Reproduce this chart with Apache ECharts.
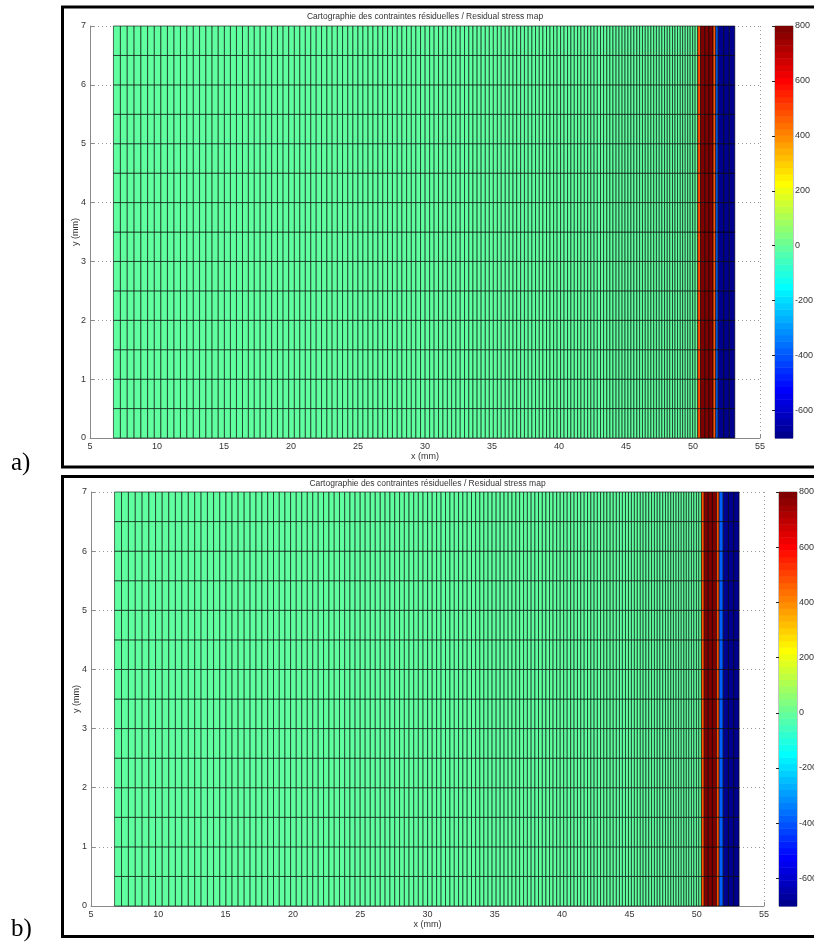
<!DOCTYPE html>
<html><head><meta charset="utf-8">
<script src="https://cdn.jsdelivr.net/npm/echarts@6/dist/echarts.min.js"></script>
<style>html,body{margin:0;padding:0;background:#fff}#c{width:814px;height:943px}</style>
</head><body><div id="c"></div>
<script>
// ---------------- data ----------------
const chartTitle = 'Cartographie des contraintes résiduelles / Residual stress map';
const xAxisName = 'x (mm)';
const yAxisName = 'y (mm)';
const panelLabels = ['a)', 'b)'];
const xTicks = [5, 10, 15, 20, 25, 30, 35, 40, 45, 50, 55];
const yTicks = [0, 1, 2, 3, 4, 5, 6, 7];
const colorbarTicks = [-600, -400, -200, 0, 200, 400, 600, 800];
const stressLimits = [-700, 800];
// row boundaries (mm)
const yEdges = [0, 0.5, 1, 1.5, 2, 2.5, 3, 3.5, 4, 4.5, 5, 5.5, 6, 6.5, 7];
// column boundaries of the refined mesh (mm)
const meshEdges = [6.75, 7.27, 7.78, 8.29, 8.80, 9.30, 9.80, 10.29, 10.78, 11.27, 11.75,
  12.23, 12.71, 13.18, 13.65, 14.11, 14.57, 15.03, 15.48, 15.93, 16.38,
  16.82, 17.26, 17.70, 18.13, 18.56, 18.99, 19.41, 19.83, 20.25, 20.66,
  21.07, 21.48, 21.88, 22.28, 22.68, 23.07, 23.46, 23.85, 24.24, 24.62,
  25.00, 25.37, 25.75, 26.12, 26.49, 26.85, 27.21, 27.57, 27.93, 28.28,
  28.63, 28.98, 29.32, 29.67, 30.01, 30.35, 30.68, 31.01, 31.34, 31.67,
  31.99, 32.31, 32.63, 32.95, 33.27, 33.58, 33.89, 34.19, 34.50, 34.80,
  35.10, 35.40, 35.69, 35.99, 36.28, 36.57, 36.85, 37.14, 37.42, 37.70,
  37.98, 38.25, 38.53, 38.80, 39.07, 39.33, 39.60, 39.86, 40.12, 40.38,
  40.64, 40.89, 41.14, 41.39, 41.64, 41.89, 42.14, 42.38, 42.62, 42.86,
  43.10, 43.33, 43.57, 43.80, 44.03, 44.26, 44.48, 44.71, 44.93, 45.15,
  45.37, 45.59, 45.81, 46.02, 46.23, 46.44, 46.65, 46.86, 47.07, 47.27,
  47.48, 47.68, 47.88, 48.08, 48.27, 48.47, 48.66, 48.85, 49.05, 49.23,
  49.42, 49.61, 49.79, 49.98, 50.16, 50.35];
const meshStress = -8; // stress in the bulk (MPa)
// columns of the treated surface layer
const surfaceEdgesA = [50.35, 50.57, 50.88, 51.19, 51.50, 51.70, 51.88, 52.30, 52.71, 53.12];
const surfaceStressA = [480, 790, 790, 790, 480, -380, -690, -690, -690];
const surfaceEdgesB = [50.35, 50.56, 50.86, 51.17, 51.47, 51.67, 51.97, 52.36, 52.76, 53.15];
const surfaceStressB = [480, 790, 790, 790, 480, -380, -690, -690, -690];

// ---------------- colormap (MATLAB jet, 64 levels) ----------------
function u(j) { if (j < 1 || j > 47) return 0; if (j <= 16) return j / 16; if (j <= 31) return 1; return (48 - j) / 16; }
function jetIndexColor(I) { // I: 1..64
  const r = u(I - 24), g = u(I - 8), b = u(I + 8);
  return 'rgb(' + Math.round(r * 255) + ',' + Math.round(g * 255) + ',' + Math.round(b * 255) + ')';
}
function stressColor(v) {
  let I = Math.floor((v - stressLimits[0]) / (stressLimits[1] - stressLimits[0]) * 64) + 1;
  I = Math.max(1, Math.min(64, I));
  return jetIndexColor(I);
}

function buildCells(surfEdges, surfStress) {
  const cells = [];
  const cols = [];
  for (let i = 0; i < meshEdges.length - 1; i++) cols.push([meshEdges[i], meshEdges[i + 1], meshStress]);
  for (let i = 0; i < surfEdges.length - 1; i++) cols.push([surfEdges[i], surfEdges[i + 1], surfStress[i]]);
  cols.forEach(c => {
    for (let j = 0; j < yEdges.length - 1; j++) cells.push([c[0], c[1], yEdges[j], yEdges[j + 1], c[2]]);
  });
  return cells;
}
const levels = [];
for (let i = 0; i < 64; i++) {
  const s = (stressLimits[1] - stressLimits[0]) / 64;
  levels.push([0, 1, stressLimits[0] + i * s, stressLimits[0] + (i + 1) * s, i + 1]);
}

// ---------------- chart ----------------
const FONT = '"Liberation Sans", Arial, sans-serif';
const axisGray = '#8a8a8a';
const textGray = '#333';

const panels = [
  { main: { left: 90, top: 26, width: 670, height: 412 }, bar: { left: 775, top: 26, width: 18, height: 412 }, cells: buildCells(surfaceEdgesA, surfaceStressA), titleY: 17, frameY: 7, frameH: 460, labelY: 451 },
  { main: { left: 91, top: 492, width: 673, height: 414 }, bar: { left: 779, top: 492, width: 18, height: 414 }, cells: buildCells(surfaceEdgesB, surfaceStressB), titleY: 484, frameY: 476.5, frameH: 460, labelY: 917 }
];

const grid = [], xAxis = [], yAxis = [], series = [], graphic = [];
panels.forEach((p, k) => {
  const gMain = grid.length;
  grid.push(Object.assign({ outerBoundsMode: 'none', containLabel: false }, p.main));
  const gBar = grid.length;
  grid.push(Object.assign({ outerBoundsMode: 'none', containLabel: false, show: true, borderColor: axisGray, borderWidth: 1, backgroundColor: 'transparent' }, p.bar));

  const xm = xAxis.length;
  xAxis.push({
    gridIndex: gMain, type: 'value', min: xTicks[0], max: xTicks[xTicks.length - 1], interval: 5,
    axisLine: { show: true, lineStyle: { color: axisGray, width: 1 } },
    axisTick: { show: true, inside: true, length: 4, lineStyle: { color: axisGray } },
    axisLabel: { fontSize: 9, color: textGray, margin: 4, fontFamily: FONT, hideOverlap: false },
    splitLine: { show: true, lineStyle: { type: [1, 3], color: '#9a9a9a', width: 1 } },
    name: xAxisName, nameLocation: 'middle', nameGap: 14, nameMoveOverlap: false,
    nameTextStyle: { fontSize: 9, color: textGray, fontFamily: FONT }
  });
  const ym = yAxis.length;
  yAxis.push({
    gridIndex: gMain, type: 'value', min: yTicks[0], max: yTicks[yTicks.length - 1], interval: 1,
    axisLine: { show: true, lineStyle: { color: axisGray, width: 1 } },
    axisTick: { show: true, inside: true, length: 4, lineStyle: { color: axisGray } },
    axisLabel: { fontSize: 9, color: textGray, margin: 4, fontFamily: FONT, hideOverlap: false },
    splitLine: { show: true, lineStyle: { type: [1, 3], color: '#9a9a9a', width: 1 } },
    name: yAxisName, nameLocation: 'middle', nameGap: 10, nameRotate: 90, nameMoveOverlap: false,
    nameTextStyle: { fontSize: 9, color: textGray, fontFamily: FONT }
  });
  series.push({
    type: 'custom', xAxisIndex: xm, yAxisIndex: ym, data: p.cells, encode: { x: [0, 1], y: [2, 3] },
    progressive: 0, animation: false, silent: true,
    renderItem: function (params, api) {
      const a = api.coord([api.value(0), api.value(3)]);
      const b = api.coord([api.value(1), api.value(2)]);
      return { type: 'rect', shape: { x: a[0], y: a[1], width: b[0] - a[0], height: b[1] - a[1] },
        style: { fill: stressColor(api.value(4)), stroke: '#000', lineWidth: 0.6 } };
    }
  });

  const xb = xAxis.length;
  xAxis.push({ gridIndex: gBar, type: 'value', min: 0, max: 1, show: false });
  const yb = yAxis.length;
  yAxis.push({
    gridIndex: gBar, type: 'value', position: 'right', min: stressLimits[0], max: stressLimits[1],
    axisLine: { show: false },
    axisTick: { show: true, inside: true, length: 3, customValues: colorbarTicks, lineStyle: { color: '#222' } },
    axisLabel: { show: true, customValues: colorbarTicks, fontSize: 9, color: textGray, margin: 2, fontFamily: FONT, hideOverlap: false },
    splitLine: { show: false }
  });
  const yb2 = yAxis.length;
  yAxis.push({
    gridIndex: gBar, type: 'value', position: 'left', min: stressLimits[0], max: stressLimits[1],
    axisLine: { show: false },
    axisTick: { show: true, inside: true, length: 3, customValues: colorbarTicks, lineStyle: { color: '#222' } },
    axisLabel: { show: false }, splitLine: { show: false }
  });
  series.push({
    type: 'custom', xAxisIndex: xb, yAxisIndex: yb, data: levels, encode: { x: [0, 1], y: [2, 3] },
    progressive: 0, animation: false, silent: true, z: 1,
    renderItem: function (params, api) {
      const a = api.coord([api.value(0), api.value(3)]);
      const b = api.coord([api.value(1), api.value(2)]);
      return { type: 'rect', shape: { x: a[0], y: a[1], width: b[0] - a[0], height: b[1] - a[1] + 0.5 },
        style: { fill: jetIndexColor(api.value(4)), stroke: null } };
    }
  });

  graphic.push({ type: 'text', x: p.main.left + p.main.width / 2, y: p.titleY, z: 50,
    style: { text: chartTitle, align: 'center', verticalAlign: 'middle', font: '8.5px ' + FONT, fill: textGray } });
  graphic.push({ type: 'rect', z: 100, shape: { x: 62.5, y: p.frameY, width: 800, height: p.frameH },
    style: { fill: 'none', stroke: '#000', lineWidth: 3 } });
  graphic.push({ type: 'text', x: 11, y: p.labelY, z: 100,
    style: { text: panelLabels[k], font: '25px "Liberation Serif", "DejaVu Serif", serif', fill: '#000' } });
});

const chart = echarts.init(document.getElementById('c'), null, { renderer: 'canvas' });
chart.setOption({
  animation: false,
  backgroundColor: '#fff',
  textStyle: { fontFamily: FONT },
  grid, xAxis, yAxis, series, graphic
});
</script></body></html>
